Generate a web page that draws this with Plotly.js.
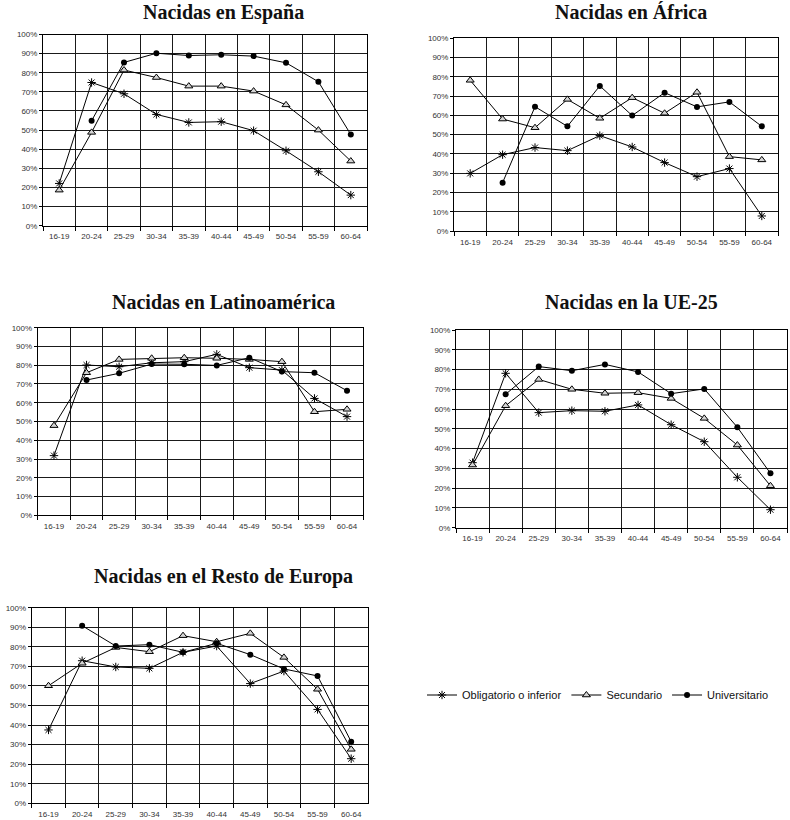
<!DOCTYPE html>
<html>
<head>
<meta charset="utf-8">
<script src="https://cdn.plot.ly/plotly-3.0.1.min.js"></script>
<style>
  html, body { margin: 0; padding: 0; background: #fff; }
  #chart { width: 790px; height: 820px; }
</style>
</head>
<body>
<div id="chart"></div>
<script>
// ---- Data (percent of women employed, by age group and education level) ----
const ages = ["16-19", "20-24", "25-29", "30-34", "35-39", "40-44", "45-49", "50-54", "55-59", "60-64"];
const seriesNames = ["Obligatorio o inferior", "Secundario", "Universitario"];
const panelTitles = ["Nacidas en España", "Nacidas en África", "Nacidas en Latinoamérica", "Nacidas en la UE-25", "Nacidas en el Resto de Europa"];

const espanaObligatorio   = [22.1, 74.9, 69.0, 58.2, 54.0, 54.4, 49.7, 39.2, 28.2, 16.0];
const espanaSecundario    = [18.6, 48.8, 81.4, 77.5, 73.0, 73.0, 70.4, 63.2, 50.0, 33.8];
const espanaUniversitario = [null, 54.9, 85.4, 90.2, 89.0, 89.4, 88.7, 85.2, 75.3, 47.7];

const africaObligatorio   = [29.9, 39.6, 43.3, 41.7, 49.5, 43.6, 35.5, 28.2, 32.4, 7.8];
const africaSecundario    = [78.2, 58.1, 53.6, 68.3, 58.5, 69.2, 61.1, 72.0, 38.6, 36.9];
const africaUniversitario = [null, 25.1, 64.5, 54.3, 75.3, 59.9, 71.8, 64.4, 67.0, 54.3];

const latamObligatorio    = [31.8, 80.1, 79.2, 81.3, 81.9, 85.8, 78.7, 77.4, 62.3, 52.6];
const latamSecundario     = [47.8, 76.0, 83.1, 83.7, 84.0, 83.7, 83.1, 81.9, 55.2, 56.5];
const latamUniversitario  = [null, 72.1, 75.7, 80.6, 80.5, 79.9, 84.0, 76.6, 76.0, 66.4];

const ue25Obligatorio     = [32.9, 78.1, 58.2, 59.2, 58.9, 62.1, 52.1, 43.5, 25.5, 9.1];
const ue25Secundario      = [31.7, 61.7, 75.0, 70.0, 68.0, 68.3, 65.4, 55.3, 41.8, 21.2];
const ue25Universitario   = [null, 67.5, 81.5, 79.4, 82.6, 78.8, 67.8, 70.2, 50.8, 27.5];

const restoObligatorio    = [37.5, 72.9, 69.7, 69.0, 77.2, 80.4, 61.2, 67.6, 48.0, 22.8];
const restoSecundario     = [60.1, 71.6, 79.7, 77.5, 85.7, 82.6, 86.9, 74.6, 58.3, 27.6];
const restoUniversitario  = [null, 90.8, 80.4, 81.1, 77.2, 81.8, 76.0, 68.7, 65.1, 31.5];

const yTicks = [0, 10, 20, 30, 40, 50, 60, 70, 80, 90, 100];
const yTickLabels = ["0%", "10%", "20%", "30%", "40%", "50%", "60%", "70%", "80%", "90%", "100%"];

// ---- Build ----
const panels = [
  [espanaObligatorio, espanaSecundario, espanaUniversitario],
  [africaObligatorio, africaSecundario, africaUniversitario],
  [latamObligatorio, latamSecundario, latamUniversitario],
  [ue25Obligatorio, ue25Secundario, ue25Universitario],
  [restoObligatorio, restoSecundario, restoUniversitario]
];

const W = 790, H = 820;
// plot area boxes in pixels: [left, right, top, bottom]
const boxes = [
  [43, 367, 34.5, 225.7],
  [454, 778, 38.3, 231],
  [37.7, 363.3, 327.7, 515.3],
  [456, 787, 330, 527.7],
  [31.7, 368, 607.7, 803.3]
];
const titlePos = [
  [223.5, 12],
  [631, 12],
  [223, 302],
  [631, 302],
  [223.5, 576]
];

const markerStyles = [
  {symbol: "asterisk-open", size: 7, color: "#000", line: {color: "#000", width: 1}},
  {symbol: "triangle-up", size: 7, color: "#d4d4d4", line: {color: "#000", width: 1}},
  {symbol: "circle", size: 6, color: "#000", line: {color: "#000", width: 0}}
];

const traces = [];
panels.forEach((series, p) => {
  const ax = p === 0 ? "" : String(p + 1);
  series.forEach((vals, s) => {
    traces.push({
      type: "scatter",
      mode: "lines+markers",
      x: ages,
      y: vals,
      name: seriesNames[s],
      legendgroup: seriesNames[s],
      showlegend: p === 0,
      xaxis: "x" + ax,
      yaxis: "y" + ax,
      line: {color: "#000", width: 1},
      marker: markerStyles[s],
      connectgaps: false,
      hoverinfo: "x+y+name"
    });
  });
});

const tickFont = {family: "Liberation Sans, Arial, sans-serif", size: 8, color: "#333"};
const layout = {
  width: W, height: H,
  margin: {l: 0, r: 0, t: 0, b: 0, autoexpand: false},
  paper_bgcolor: "#fff",
  plot_bgcolor: "#fff",
  showlegend: true,
  legend: {
    orientation: "h",
    x: 422 / W, y: 1 - 695 / H,
    xanchor: "left", yanchor: "middle",
    font: {family: "Liberation Sans, Arial, sans-serif", size: 11, color: "#111"},
    itemwidth: 30,
    tracegroupgap: 0,
    bgcolor: "rgba(0,0,0,0)"
  },
  annotations: []
};

boxes.forEach((b, p) => {
  const ax = p === 0 ? "" : String(p + 1);
  layout["xaxis" + ax] = {
    domain: [b[0] / W, b[1] / W],
    anchor: "y" + ax,
    type: "category",
    categoryorder: "array",
    categoryarray: ages,
    range: [-0.5, 9.5],
    tickson: "boundaries",
    ticks: "outside",
    ticklen: 4,
    tickcolor: "#000",
    ticklabelstandoff: 3,
    showgrid: true,
    gridcolor: "#1a1a1a",
    gridwidth: 1,
    showline: true,
    mirror: true,
    linecolor: "#000",
    linewidth: 1,
    zeroline: false,
    automargin: false,
    tickfont: tickFont,
    fixedrange: true
  };
  layout["yaxis" + ax] = {
    domain: [1 - b[3] / H, 1 - b[2] / H],
    anchor: "x" + ax,
    range: [0, 100],
    tickmode: "array",
    tickvals: yTicks,
    ticktext: yTickLabels,
    ticks: "outside",
    ticklen: 3,
    tickcolor: "#000",
    showgrid: true,
    gridcolor: "#1a1a1a",
    gridwidth: 1,
    showline: true,
    mirror: true,
    linecolor: "#000",
    linewidth: 1,
    zeroline: false,
    automargin: false,
    tickfont: tickFont,
    fixedrange: true
  };
  layout.annotations.push({
    text: "<b>" + panelTitles[p] + "</b>",
    xref: "paper", yref: "paper",
    x: titlePos[p][0] / W, y: 1 - titlePos[p][1] / H,
    xanchor: "center", yanchor: "middle",
    showarrow: false,
    font: {family: "Liberation Serif, Times New Roman, serif", size: 20, color: "#111"}
  });
});

Plotly.newPlot("chart", traces, layout, {displayModeBar: false, staticPlot: true});
</script>
</body>
</html>
